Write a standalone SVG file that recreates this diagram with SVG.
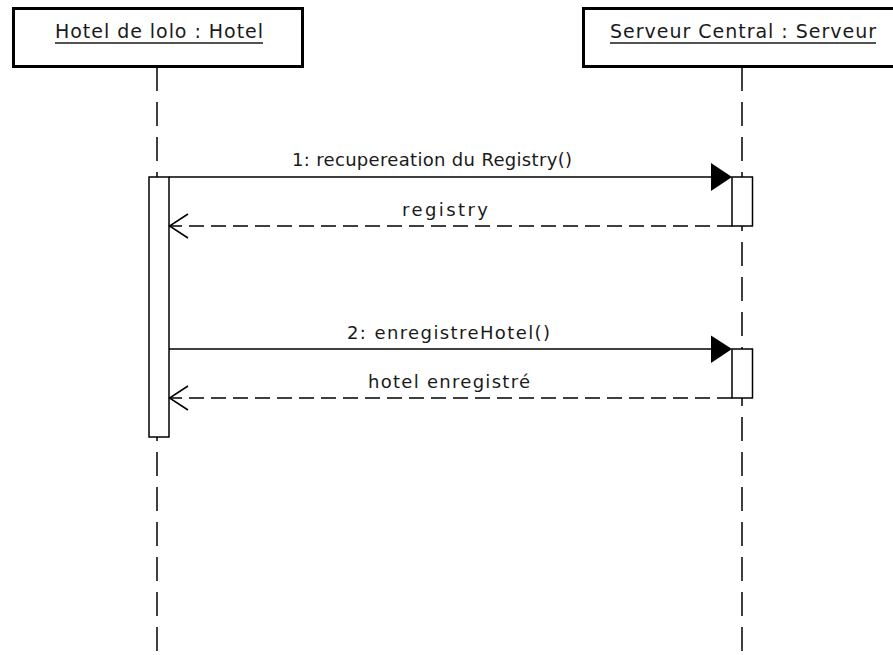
<svg xmlns="http://www.w3.org/2000/svg" width="893" height="655" viewBox="0 0 893 655">
  <style>
    .obj { fill: #ffffff; stroke: #000000; stroke-width: 3; }
    .title { font-family: "DejaVu Sans", "Liberation Sans", sans-serif; font-size: 19px; fill: #1a1a1a; }
    .lbl { font-family: "DejaVu Sans", "Liberation Sans", sans-serif; font-size: 18px; fill: #1a1a1a; }
    .uline { stroke: #1a1a1a; stroke-width: 1.5; }
    .life { stroke: #000000; stroke-width: 1.5; stroke-dasharray: 24 11; fill: none; }
    .act { fill: #ffffff; stroke: #000000; stroke-width: 1.5; }
    .msg { stroke: #000000; stroke-width: 1.5; fill: none; }
    .ret { stroke: #000000; stroke-width: 1.5; fill: none; stroke-dasharray: 15 7; }
    .open { stroke: #000000; stroke-width: 1.5; fill: none; }
    .head { fill: #000000; stroke: none; }
  </style>

  <g id="hotel">
    <rect class="obj" x="13.5" y="8.5" width="289" height="58"/>
    <text class="title" x="55" y="38" textLength="208" lengthAdjust="spacing">Hotel de lolo : Hotel</text>
    <line class="uline" x1="55" y1="43" x2="263" y2="43"/>
    <line class="life" x1="157" y1="67" x2="157" y2="655"/>
    <rect class="act" x="149" y="177" width="20" height="260"/>
  </g>

  <g id="serveur">
    <rect class="obj" x="583.5" y="8.5" width="318" height="58"/>
    <text class="title" x="610" y="38" textLength="266" lengthAdjust="spacing">Serveur Central : Serveur</text>
    <line class="uline" x1="610" y1="43" x2="876" y2="43"/>
    <line class="life" x1="742" y1="67" x2="742" y2="655"/>
    <rect class="act" x="732" y="177" width="20.5" height="49"/>
    <rect class="act" x="732" y="349" width="20.5" height="49"/>
  </g>

  <g id="connectors">
    <g id="m1">
      <line class="msg" x1="169" y1="177" x2="712" y2="177"/>
      <polygon class="head" points="711,163 732,177 711,191"/>
      <text class="lbl" x="292" y="166" textLength="280" lengthAdjust="spacing">1: recupereation du Registry()</text>
    </g>
    <g id="r1">
      <line class="ret" x1="732" y1="226" x2="170" y2="226"/>
      <polyline class="open" points="188,214 169.5,226 188,238"/>
      <text class="lbl" x="402" y="216" textLength="86" lengthAdjust="spacing">registry</text>
    </g>
    <g id="m2">
      <line class="msg" x1="169" y1="349" x2="712" y2="349"/>
      <polygon class="head" points="711,335.5 732,349 711,363"/>
      <text class="lbl" x="347" y="339" textLength="203" lengthAdjust="spacing">2: enregistreHotel()</text>
    </g>
    <g id="r2">
      <line class="ret" x1="732" y1="398" x2="170" y2="398"/>
      <polyline class="open" points="188,386 169.5,398 188,410"/>
      <text class="lbl" x="368" y="388" textLength="162" lengthAdjust="spacing">hotel enregistré</text>
    </g>
  </g>
</svg>
